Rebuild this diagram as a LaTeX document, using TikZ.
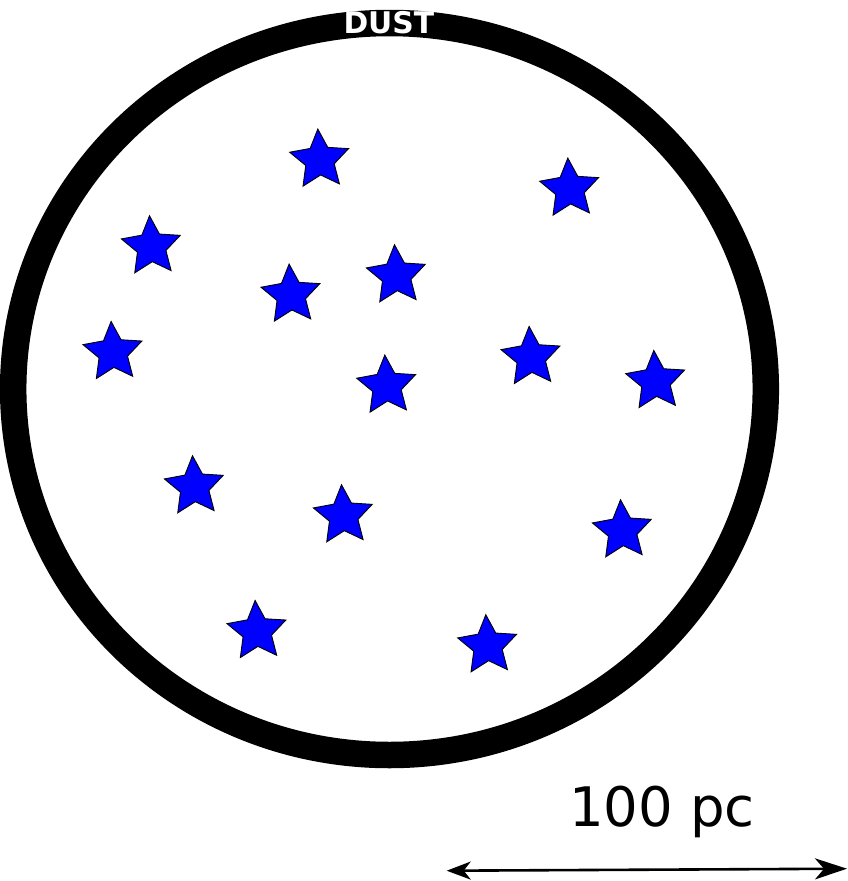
\documentclass[tikz,border=0pt]{standalone}
\usepackage{fontspec}
\newfontfamily\dejavu{DejaVu Sans}
\usetikzlibrary{arrows.meta}
\tikzset{
  bluestar/.pic={
    \filldraw[fill=blue, draw=black, line width=0.9pt, line join=miter]
      (93.5:31pt)
      \foreach \k in {1,...,9}{ -- ({93.5+36*\k}:{ifthenelse(mod(\k,2)==0,31,15)*1pt}) }
      -- cycle;
  },
  ring/.style={draw=black, line width=26.5pt},
  lbl/.style={inner sep=0pt, outer sep=0pt},
  scalearrow/.style={line width=2.6pt,
    {Stealth[length=24pt,width=18pt,inset=7pt]}-{Stealth[length=32pt,width=21pt,inset=9pt]}}
}
\begin{document}
\begin{tikzpicture}[x=1pt,y=-1pt]
\useasboundingbox (0,0) rectangle (847,881);
\draw[ring] (389.5,389) ellipse [x radius=376.3pt, y radius=366pt];
\node[lbl, anchor=base west, text=white, font=\dejavu\bfseries\fontsize{29.8}{31}\selectfont] (dust) at (343.5,33.5) {DUST};
\foreach \x/\y in {319.7/160, 569.7/189, 151.4/246.7, 291/295, 396.4/275.7, 113/352.4,
  531/357.4, 386.7/386, 655.7/381.4, 194.4/486.7, 343.4/515.7, 622.4/530.7, 257/631.4, 487.7/645.7}
  \pic at (\x,\y) {bluestar};
\node[lbl, anchor=base west, font=\dejavu\fontsize{54.5}{56}\selectfont] (scale) at (569,826.7) {100 pc};
\coordinate (aL) at (446.7,870.7);
\coordinate (aR) at (847,868.7);
\draw[scalearrow] (aL) -- (aR);
\end{tikzpicture}
\end{document}
